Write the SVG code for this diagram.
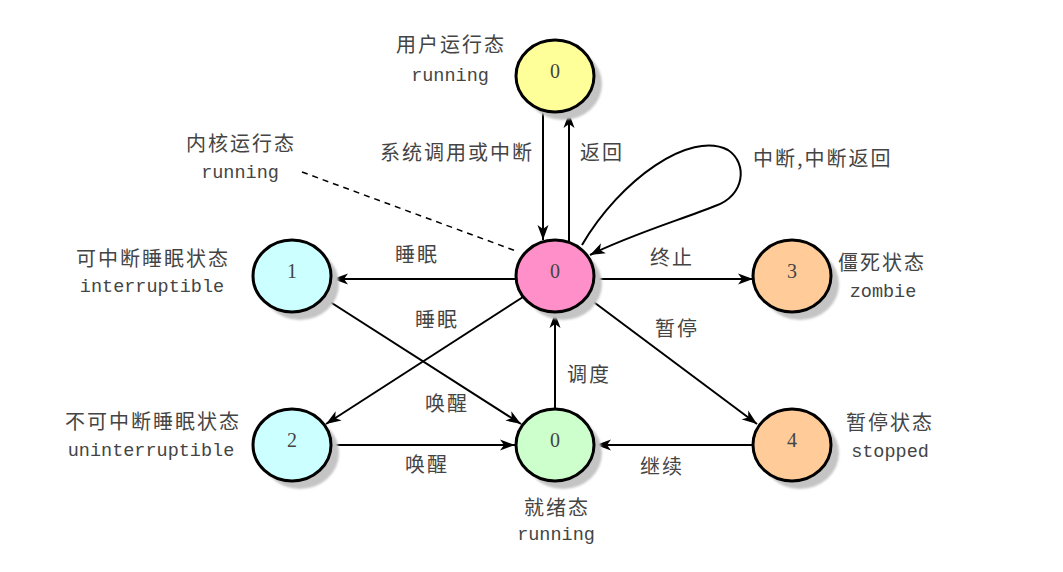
<svg xmlns="http://www.w3.org/2000/svg" width="1063" height="572" viewBox="0 0 1063 572">
<defs>
<marker id="ah" markerWidth="16" markerHeight="12" refX="15" refY="6" orient="auto" markerUnits="userSpaceOnUse">
<path d="M0,0.5 L15,6 L0,11.5 L4,6 Z" fill="#000"/>
</marker>
<filter id="blur" x="-20%" y="-20%" width="140%" height="140%"><feGaussianBlur stdDeviation="1.2"/></filter>
</defs>
<style>
.shadow{fill:#c4c4c4;filter:url(#blur)}
.node{stroke:#000;stroke-width:3}
.num{font-family:"Liberation Serif",serif;font-size:20px;fill:#444;text-anchor:middle}
.cn{font-family:"Noto Sans CJK SC",sans-serif;font-size:20px;fill:#444;letter-spacing:2px}
.en{font-family:"Liberation Mono",monospace;font-size:18.5px;fill:#444}
.mid{text-anchor:middle}
.edge{stroke:#000;stroke-width:2;fill:none}
</style>
<rect width="1063" height="572" fill="#fff"/>

<g id="connectors">
<line class="edge" x1="543" y1="112" x2="543" y2="240" marker-end="url(#ah)"/>
<line class="edge" x1="569" y1="241" x2="569" y2="113" marker-end="url(#ah)"/>
<line class="edge" x1="516" y1="279" x2="333" y2="279" marker-end="url(#ah)"/>
<line class="edge" x1="594" y1="279" x2="753" y2="279" marker-end="url(#ah)"/>
<line class="edge" x1="523" y1="297" x2="326" y2="424" marker-end="url(#ah)"/>
<line class="edge" x1="587" y1="297" x2="757" y2="424" marker-end="url(#ah)"/>
<line class="edge" x1="324" y1="298" x2="521" y2="424" marker-end="url(#ah)"/>
<line class="edge" x1="555" y1="409" x2="555" y2="313" marker-end="url(#ah)"/>
<line class="edge" x1="333" y1="445" x2="515" y2="445" marker-end="url(#ah)"/>
<line class="edge" x1="754" y1="445" x2="596" y2="445" marker-end="url(#ah)"/>
<path class="edge" d="M582 245 C620 180,690 130,728 150 C748 163,745 196,715 206 C680 220,630 235,590 255" marker-end="url(#ah)"/>
<line x1="302" y1="172" x2="516" y2="251" stroke="#000" stroke-width="1.5" stroke-dasharray="6,5"/>
</g>

<g id="node-user">
<ellipse class="shadow" cx="563" cy="84" rx="39" ry="36"/>
<ellipse class="node" cx="555" cy="76" rx="39" ry="36" fill="#ffff99"/>
<text class="num" x="555" y="78">0</text>
</g>
<g id="node-kernel">
<ellipse class="shadow" cx="563" cy="284" rx="39" ry="36"/>
<ellipse class="node" cx="555" cy="276" rx="39" ry="36" fill="#ff8fc8"/>
<text class="num" x="555" y="278">0</text>
</g>
<g id="node-1">
<ellipse class="shadow" cx="300" cy="284" rx="39" ry="36"/>
<ellipse class="node" cx="292" cy="276" rx="39" ry="36" fill="#ccffff"/>
<text class="num" x="292" y="278">1</text>
</g>
<g id="node-3">
<ellipse class="shadow" cx="800" cy="284" rx="39" ry="36"/>
<ellipse class="node" cx="792" cy="276" rx="39" ry="36" fill="#ffcc99"/>
<text class="num" x="792" y="278">3</text>
</g>
<g id="node-2">
<ellipse class="shadow" cx="300" cy="453" rx="39" ry="36"/>
<ellipse class="node" cx="292" cy="445" rx="39" ry="36" fill="#ccffff"/>
<text class="num" x="292" y="447">2</text>
</g>
<g id="node-ready">
<ellipse class="shadow" cx="563" cy="453" rx="39" ry="36"/>
<ellipse class="node" cx="555" cy="445" rx="39" ry="36" fill="#ccffcc"/>
<text class="num" x="555" y="447">0</text>
</g>
<g id="node-4">
<ellipse class="shadow" cx="800" cy="453" rx="39" ry="36"/>
<ellipse class="node" cx="792" cy="445" rx="39" ry="36" fill="#ffcc99"/>
<text class="num" x="792" y="447">4</text>
</g>

<g id="labels">
<text class="cn mid" x="451" y="52">用户运行态</text>
<text class="en mid" x="450" y="81">running</text>
<text class="cn mid" x="241" y="151">内核运行态</text>
<text class="en mid" x="240" y="178">running</text>
<text class="cn mid" x="153" y="266">可中断睡眠状态</text>
<text class="en mid" x="152" y="292">interruptible</text>
<text class="cn mid" x="153" y="429">不可中断睡眠状态</text>
<text class="en mid" x="151" y="456">uninterruptible</text>
<text class="cn mid" x="882" y="270">僵死状态</text>
<text class="en mid" x="883" y="297">zombie</text>
<text class="cn mid" x="890" y="430">暂停状态</text>
<text class="en mid" x="890" y="457">stopped</text>
<text class="cn mid" x="557" y="515">就绪态</text>
<text class="en mid" x="556" y="540">running</text>

<text class="cn" x="380" y="160">系统调用或中断</text>
<text class="cn" x="580" y="160">返回</text>
<text class="cn" x="753" y="166">中断,中断返回</text>
<text class="cn" x="395" y="262">睡眠</text>
<text class="cn" x="650" y="265">终止</text>
<text class="cn" x="415" y="327">睡眠</text>
<text class="cn" x="655" y="336">暂停</text>
<text class="cn" x="567" y="382">调度</text>
<text class="cn" x="425" y="411">唤醒</text>
<text class="cn" x="405" y="472">唤醒</text>
<text class="cn" x="640" y="474">继续</text>
</g>
</svg>
